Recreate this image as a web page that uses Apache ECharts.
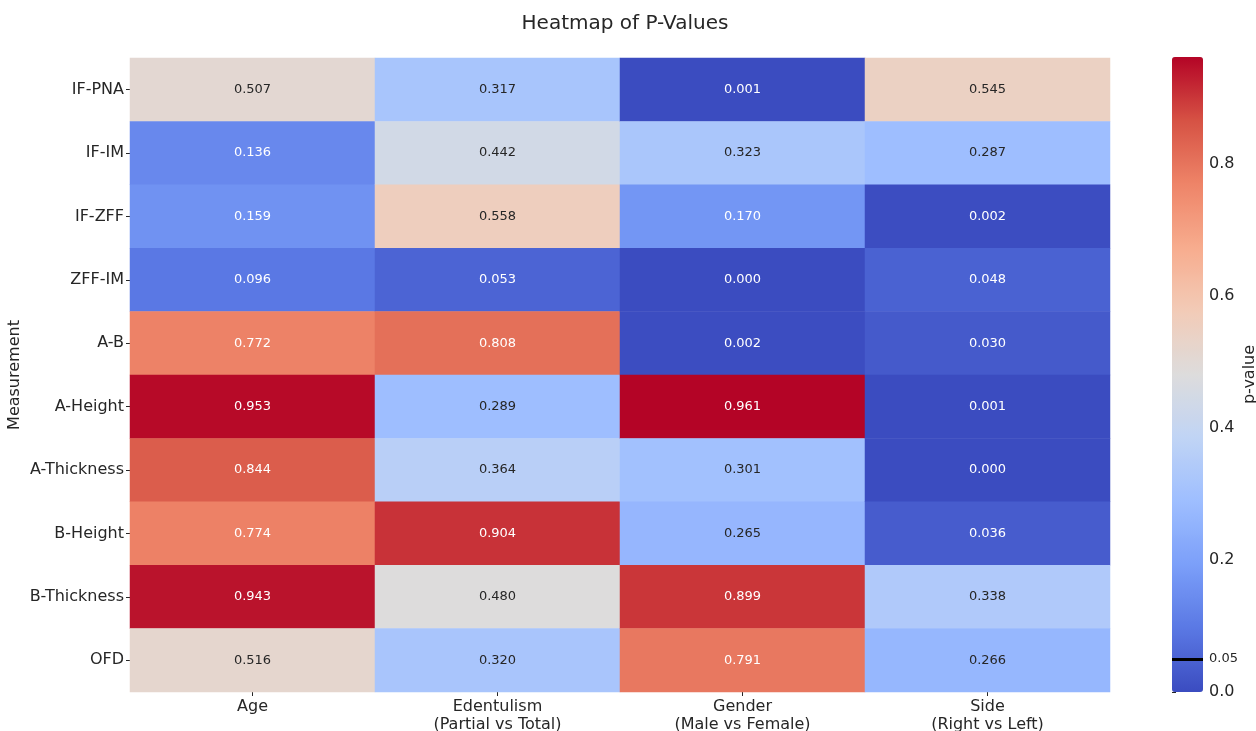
<!DOCTYPE html>
<html>
<head>
<meta charset="utf-8">
<script src="https://cdn.jsdelivr.net/npm/echarts@6/dist/echarts.min.js"></script>
<style>
html,body{margin:0;padding:0;background:#fff;}
#main{width:1256px;height:731px;}
</style>
</head>
<body>
<div id="main"></div>
<script>
// ---- data ----
const measurements = ['IF-PNA','IF-IM','IF-ZFF','ZFF-IM','A-B','A-Height','A-Thickness','B-Height','B-Thickness','OFD'];
const factors = ['Age','Edentulism\n(Partial vs Total)','Gender\n(Male vs Female)','Side\n(Right vs Left)'];
const ageP        = [0.507,0.136,0.159,0.096,0.772,0.953,0.844,0.774,0.943,0.516];
const edentulismP = [0.317,0.442,0.558,0.053,0.808,0.289,0.364,0.904,0.480,0.320];
const genderP     = [0.001,0.323,0.170,0.000,0.002,0.961,0.301,0.265,0.899,0.791];
const sideP       = [0.545,0.287,0.002,0.048,0.030,0.001,0.000,0.036,0.338,0.266];
const colorbarTicks = [0, 0.2, 0.4, 0.6, 0.8];
const colorbarLabels = [0, 0.05, 0.2, 0.4, 0.6, 0.8];
const thresholdP = 0.05;

// coolwarm colormap stops
const coolwarm = ['#3b4cc0','#5a78e4','#7b9ff9','#9ebeff','#c0d4f5','#dddcdc','#f2cbb7','#f7ac8e','#ee8468','#d65244','#b40426'];

const columns = [ageP, edentulismP, genderP, sideP];
const allVals = columns.flat();
const vmin = Math.min(...allVals), vmax = Math.max(...allVals);

function hexToRgb(h){return [parseInt(h.slice(1,3),16),parseInt(h.slice(3,5),16),parseInt(h.slice(5,7),16)];}
function cmap(t){
  t = Math.max(0, Math.min(1, t));
  const n = coolwarm.length - 1;
  const i = Math.min(Math.floor(t*n), n-1);
  const f = t*n - i;
  const a = hexToRgb(coolwarm[i]), b = hexToRgb(coolwarm[i+1]);
  return a.map((c,k)=>c+(b[k]-c)*f);
}
function lum(rgb){
  const lin = rgb.map(c=>{c/=255; return c<=0.03928? c/12.92 : Math.pow((c+0.055)/1.055,2.4);});
  return 0.2126*lin[0]+0.7152*lin[1]+0.0722*lin[2];
}

const heatData = [];
columns.forEach((col, xi)=>{
  col.forEach((v, yi)=>{
    const L = lum(cmap((v-vmin)/(vmax-vmin)));
    heatData.push({value:[xi, yi, v], label:{color: L > 0.408 ? '#262626' : '#ffffff'}});
  });
});

const FONT = '"DejaVu Sans", sans-serif';
const chart = echarts.init(document.getElementById('main'), null, {renderer:'canvas'});
chart.setOption({
  backgroundColor:'#ffffff',
  animation:false,
  title:{
    text:'Heatmap of P-Values', left:620, top:9, textAlign:'center',
    textStyle:{fontFamily:FONT, fontSize:20, fontWeight:'normal', color:'#262626'}
  },
  grid:[
    {left:130, top:58, width:980, height:634, outerBoundsMode:'none', containLabel:false},
    {left:1172, top:57, width:31, height:635, outerBoundsMode:'none', containLabel:false}
  ],
  xAxis:[
    {type:'category', data:factors, gridIndex:0, position:'bottom',
     axisLine:{show:false}, splitLine:{show:false},
     axisTick:{show:true, alignWithLabel:true, length:4, lineStyle:{color:'#262626'}},
     axisLabel:{fontFamily:FONT, fontSize:16, color:'#262626', margin:6, lineHeight:18}},
    {type:'value', gridIndex:1, min:0, max:1, show:false}
  ],
  yAxis:[
    {type:'category', data:measurements, gridIndex:0, inverse:true,
     name:'Measurement', nameLocation:'middle', nameRotate:90, nameGap:107, nameMoveOverlap:false,
     nameTextStyle:{fontFamily:FONT, fontSize:16, color:'#262626'},
     axisLine:{show:false}, splitLine:{show:false},
     axisTick:{show:true, alignWithLabel:true, length:4, lineStyle:{color:'#262626'}},
     axisLabel:{fontFamily:FONT, fontSize:16, color:'#262626', margin:6}},
    {type:'value', gridIndex:1, min:vmin, max:vmax, position:'right',
     name:'p-value', nameLocation:'middle', nameRotate:90, nameGap:38,
     nameTextStyle:{fontFamily:FONT, fontSize:16, color:'#262626'},
     axisLine:{show:false}, splitLine:{show:false},
     axisTick:{show:true, length:4, customValues:colorbarTicks, lineStyle:{color:'#262626'}},
     axisLabel:{show:true, customValues:colorbarLabels, fontFamily:FONT, fontSize:16, color:'#262626', margin:6,
       formatter:function(v){ return Math.abs(v-thresholdP)<1e-9 ? '{s|'+thresholdP.toFixed(2)+'}' : v.toFixed(1); },
       rich:{s:{fontFamily:FONT, fontSize:13, color:'#262626'}}}}
  ],
  visualMap:{
    type:'continuous', seriesIndex:0, min:vmin, max:vmax, calculable:false,
    orient:'vertical', left:1172, top:57, itemWidth:31, itemHeight:635, padding:0,
    text:null, showLabel:false, hoverLink:false, indicatorSize:0,
    inRange:{color:coolwarm}
  },
  series:[
    {type:'heatmap', xAxisIndex:0, yAxisIndex:0, data:heatData,
     label:{show:true, fontFamily:FONT, fontSize:13, formatter:function(p){return p.value[2].toFixed(3);}},
     itemStyle:{borderWidth:0},
     emphasis:{disabled:true}},
    {type:'scatter', xAxisIndex:1, yAxisIndex:1, data:[[0.5, thresholdP]], symbolSize:0, silent:true, z:10,
     markLine:{silent:true, symbol:['none','none'], label:{show:false},
       lineStyle:{color:'#000000', width:3, type:'solid'},
       data:[{yAxis:thresholdP}]}}
  ]
});
</script>
</body>
</html>
